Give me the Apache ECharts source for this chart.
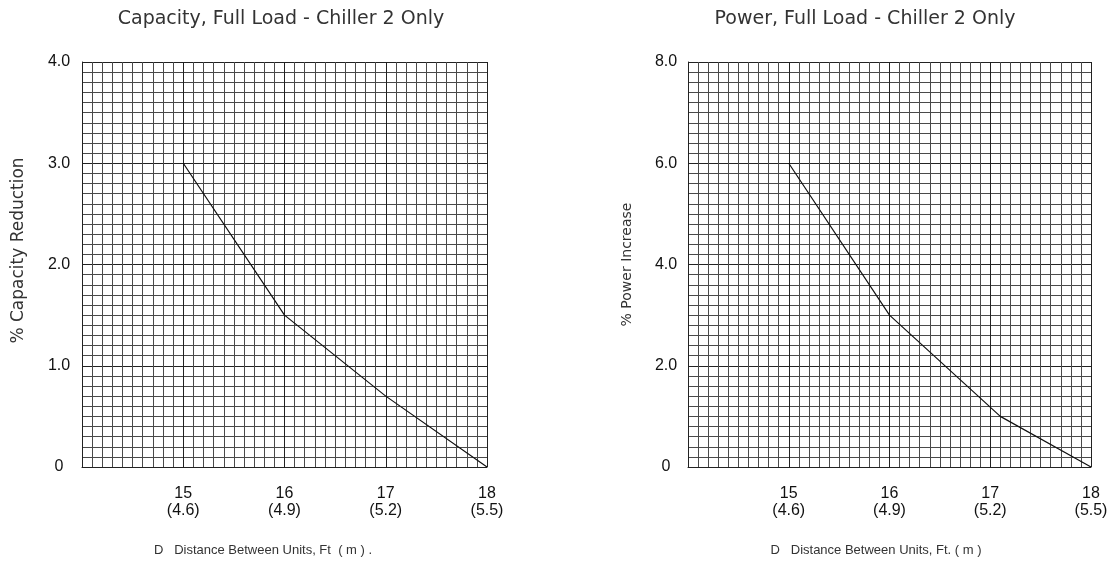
<!DOCTYPE html>
<html>
<head>
<meta charset="utf-8">
<script src="https://cdn.jsdelivr.net/npm/echarts@6/dist/echarts.min.js"></script>
<style>
html,body{margin:0;padding:0;background:#fff;}
#c{width:1119px;height:564px;}
</style>
</head>
<body>
<div id="c"></div>
<script>
// Tick labels
const ftTicks = [15, 16, 17, 18];
const mTicks = ['4.6', '4.9', '5.2', '5.5'];
// Capacity chart
const capX = [15, 16, 17, 18];
const capY = [3.0, 1.5, 0.7, 0];
// Power chart
const powX = [15, 16, 17.1, 18];
const powY = [6.0, 3.0, 1.0, 0];

const titles = ['Capacity, Full Load - Chiller 2 Only', 'Power, Full Load - Chiller 2 Only'];
const yNames = ['% Capacity Reduction', '% Power Increase'];
const xNames = ['D   Distance Between Units, Ft  ( m ) .', 'D   Distance Between Units, Ft. ( m )'];

const chart = echarts.init(document.getElementById('c'));
const tickFont = 'Liberation Sans, Arial, sans-serif';
const textFont = 'DejaVu Sans, sans-serif';

function xAxis(idx) {
  return {
    type: 'value', gridIndex: idx, min: 14, max: 18, interval: 1,
    axisLine: {show: true, lineStyle: {color: '#222', width: 1}},
    axisTick: {show: false},
    minorTick: {show: false, splitNumber: 10},
    splitLine: {show: true, lineStyle: {color: '#222', width: 1}},
    minorSplitLine: {show: true, lineStyle: {color: '#4a4a4a', width: 1}},
    axisLabel: {
      margin: 18, color: '#111', fontFamily: tickFont, fontSize: 16, lineHeight: 17,
      formatter: function (v) {
        const i = ftTicks.indexOf(Math.round(v));
        return i < 0 ? '' : ftTicks[i] + '\n(' + mTicks[i] + ')';
      }
    }
  };
}
function yAxis(idx, max, interval, margin, gap, nameSize, namePad) {
  return {
    type: 'value', gridIndex: idx, min: 0, max: max, interval: interval,
    name: yNames[idx], nameLocation: 'middle', nameGap: gap,
    nameTextStyle: {fontFamily: textFont, fontSize: nameSize, color: '#333', padding: namePad},
    axisLine: {show: true, lineStyle: {color: '#222', width: 1}},
    axisTick: {show: false},
    minorTick: {show: false, splitNumber: 10},
    splitLine: {show: true, lineStyle: {color: '#222', width: 1}},
    minorSplitLine: {show: true, lineStyle: {color: '#4a4a4a', width: 1}},
    axisLabel: {
      margin: margin, align: 'center', color: '#111', fontFamily: tickFont, fontSize: 16,
      formatter: function (v) { return v === 0 ? '0' : v.toFixed(1); }
    }
  };
}

chart.setOption({
  animation: false,
  backgroundColor: '#fff',
  title: [
    {text: titles[0], left: 276, top: 5, textAlign: 'center',
     textStyle: {fontFamily: textFont, fontSize: 19, fontWeight: 'normal', color: '#333'}},
    {text: titles[1], left: 860, top: 5, textAlign: 'center',
     textStyle: {fontFamily: textFont, fontSize: 19, fontWeight: 'normal', color: '#333'}},
    {text: xNames[0], left: 258, top: 539, textAlign: 'center',
     textStyle: {fontFamily: tickFont, fontSize: 13, fontWeight: 'normal', color: '#333'}},
    {text: xNames[1], left: 871, top: 539, textAlign: 'center',
     textStyle: {fontFamily: tickFont, fontSize: 13, fontWeight: 'normal', color: '#333'}}
  ],
  grid: [
    {left: 82, right: 632, top: 62, bottom: 97},
    {left: 688, right: 28, top: 62, bottom: 97}
  ],
  xAxis: [xAxis(0), xAxis(1)],
  yAxis: [yAxis(0, 4, 1, 23, 55, 17, [0, 0, 0, 28]), yAxis(1, 8, 2, 22, 54, 14, [0, 0, 0, 0])],
  series: [
    {type: 'line', xAxisIndex: 0, yAxisIndex: 0, showSymbol: false, symbol: 'none',
     lineStyle: {color: '#111', width: 1.2},
     data: capX.map((x, i) => [x, capY[i]])},
    {type: 'line', xAxisIndex: 1, yAxisIndex: 1, showSymbol: false, symbol: 'none',
     lineStyle: {color: '#111', width: 1.2},
     data: powX.map((x, i) => [x, powY[i]])}
  ]
});
</script>
</body>
</html>
